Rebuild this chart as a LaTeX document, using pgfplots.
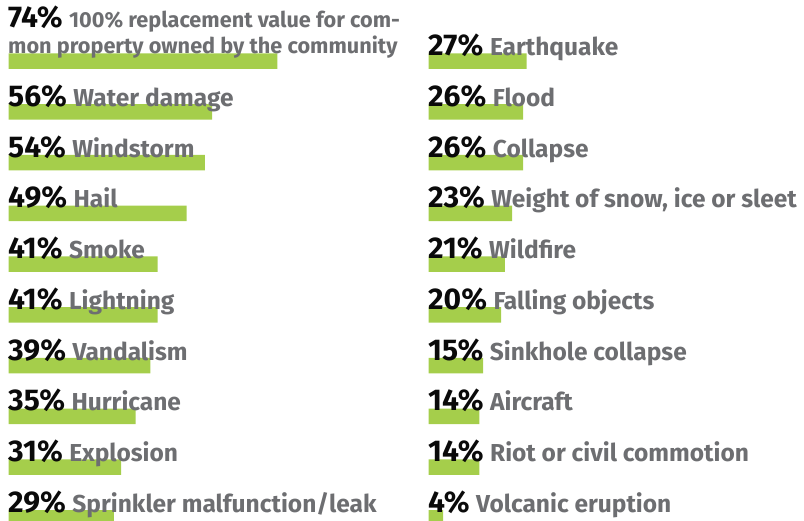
\documentclass[border=0pt]{standalone}
\usepackage{pgfplots}
\pgfplotsset{compat=1.18}
\usepackage{fontspec}
\setmainfont{Fira Sans}
\definecolor{bargreen}{HTML}{A5CE4B}
\definecolor{labgray}{HTML}{6D6E71}
\definecolor{pctblack}{HTML}{0A0A0A}
\newcommand\pct[1]{{\color{pctblack}\fontsize{30bp}{30bp}\selectfont\bfseries #1\%}}
\newcommand\lab[2]{\pct{#1}\hspace{6.5bp}{\color{labgray}\fontsize{24.5bp}{24.5bp}\selectfont\bfseries #2}}
\newcommand\labtwo[3]{\raisebox{2bp}{\parbox[b]{420bp}{\raggedright\fontsize{21.7bp}{26.5bp}\selectfont\pct{#1}\hspace{6.5bp}{\color{labgray}\bfseries #2}\\{\color{labgray}\bfseries #3}}}}
\pgfplotsset{colstyle/.style={scale only axis, width=363.5bp, height=456.75bp,
  xmin=0, xmax=100, ymin=0, ymax=9, y dir=reverse, hide axis, clip=false, anchor=south west},
  barstyle/.style={xbar, fill=bargreen, draw=none, bar width=15.5bp},
  labstyle/.style={draw=none, point meta=explicit symbolic, nodes near coords={\pgfplotspointmeta},
  every node near coord/.append style={anchor=base west, inner sep=0pt, xshift=-0.5bp, yshift=5.5bp}}}
\begin{document}
\begin{tikzpicture}
\useasboundingbox (0,0) rectangle (804bp,521bp);
\begin{axis}[colstyle, at={(8.5bp,3.25bp)}]
\addplot[barstyle] coordinates {(74,0) (56,1) (54,2) (49,3) (41,4) (41,5) (39,6) (35,7) (31,8) (29,9)};
\addplot[labstyle] coordinates {
(0,0) [{\labtwo{74}{100\% replacement value for com-}{mon property owned by the community}}]
(0,1) [{\lab{56}{Water damage}}]
(0,2) [{\lab{54}{Windstorm}}]
(0,3) [{\lab{49}{Hail}}]
(0,4) [{\lab{41}{Smoke}}]
(0,5) [{\lab{41}{Lightning}}]
(0,6) [{\lab{39}{Vandalism}}]
(0,7) [{\lab{35}{Hurricane}}]
(0,8) [{\lab{31}{Explosion}}]
(0,9) [{\lab{29}{Sprinkler malfunction/leak}}]
};
\end{axis}
\begin{axis}[colstyle, at={(428.5bp,3.25bp)}]
\addplot[barstyle] coordinates {(27,0) (26,1) (26,2) (23,3) (21,4) (20,5) (15,6) (14,7) (14,8) (4,9)};
\addplot[labstyle] coordinates {
(0,0) [{\lab{27}{Earthquake}}]
(0,1) [{\lab{26}{Flood}}]
(0,2) [{\lab{26}{Collapse}}]
(0,3) [{\lab{23}{Weight of snow, ice or sleet}}]
(0,4) [{\lab{21}{Wildfire}}]
(0,5) [{\lab{20}{Falling objects}}]
(0,6) [{\lab{15}{Sinkhole collapse}}]
(0,7) [{\lab{14}{Aircraft}}]
(0,8) [{\lab{14}{Riot or civil commotion}}]
(0,9) [{\lab{4}{Volcanic eruption}}]
};
\end{axis}
\end{tikzpicture}
\end{document}
